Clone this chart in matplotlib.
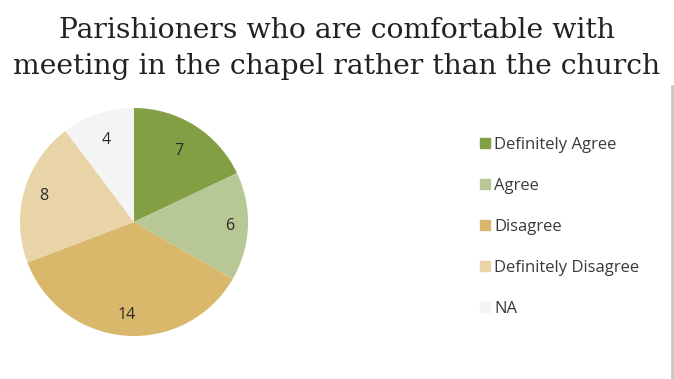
import matplotlib
import numpy as np

matplotlib.use("Agg")
import matplotlib.pyplot as plt
from matplotlib.lines import Line2D

categories = ["Definitely Agree", "Agree", "Disagree", "Definitely Disagree", "NA"]
counts = [7, 6, 14, 8, 4]
colors = ["#82a043", "#b7c796", "#d9b86b", "#e9d4a8", "#f4f4f4"]
title_lines = ["Parishioners who are comfortable with",
               "meeting in the chapel rather than the church"]

# radial distance of each value label (fraction of radius), as placed in the source
label_dist = [0.74, 0.84, 0.82, 0.82, 0.76]

W, H = 674, 379
fig = plt.figure(figsize=(W / 100, H / 100), dpi=100)
fig.patch.set_facecolor("white")

# pie axes placed in pixel coordinates
cx, cy, r = 134, 222, 114
ax = fig.add_axes([(cx - r) / W, (H - cy - r) / H, 2 * r / W, 2 * r / H])
wedges, _ = ax.pie(
    counts,
    colors=colors,
    startangle=90,
    counterclock=False,
    wedgeprops=dict(linewidth=0),
)
for w, val, d in zip(wedges, counts, label_dist):
    ang = np.deg2rad((w.theta1 + w.theta2) / 2)
    ax.text(d * np.cos(ang), d * np.sin(ang), str(val), ha="center", va="center",
            fontsize=11.5, color="#2b2b2b", family="Open Sans")
ax.set_xlim(-1, 1)
ax.set_ylim(-1, 1)
ax.set_aspect("equal")

for i, line in enumerate(title_lines):
    fig.text(0.5, 1 - (30 + 37 * i) / H, line, ha="center", va="center",
             fontsize=20.3, color="#222222", family="DejaVu Serif")

handles = [Line2D([0], [0], marker="s", linestyle="none", markersize=7,
                  markerfacecolor=c, markeredgecolor=c) for c in colors]
fig.legend(handles, categories, loc="upper left",
           bbox_to_anchor=(462 / W, 1 - 122 / H), frameon=False,
           labelspacing=1.5, handletextpad=0.05,
           handlelength=1.0, labelcolor="#3a3a3a",
           prop=dict(family="Open Sans", size=12))

# grey border at the right edge
fig.add_artist(Line2D([672 / W, 672 / W], [0, 1 - 86 / H],
                      transform=fig.transFigure, color="#c8c8c8", linewidth=2))

fig.savefig("out.png", dpi=100)
